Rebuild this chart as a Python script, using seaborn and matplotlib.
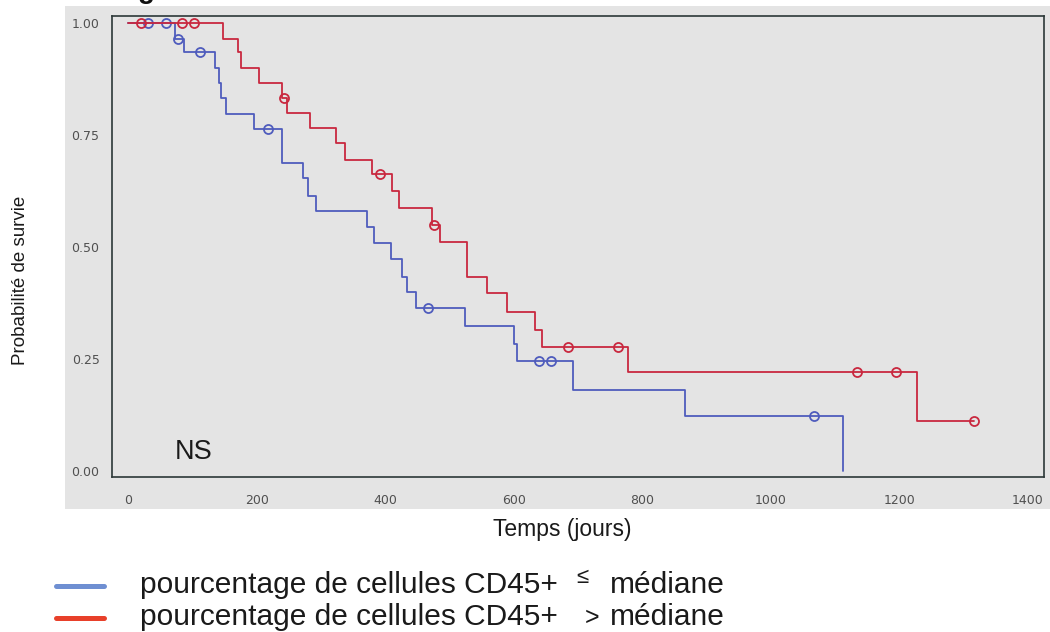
import numpy as np
import pandas as pd
import matplotlib
matplotlib.use("Agg")
import matplotlib.pyplot as plt
from matplotlib.patches import Rectangle
from matplotlib.lines import Line2D
import seaborn as sns

# Kaplan-Meier steps (days, survival)
blue_times = [0, 73, 87, 135, 141, 145, 152, 196, 239, 272, 280, 292, 372, 382,
              409, 426, 434, 448, 524, 600, 605, 692, 866, 1112]
blue_surv = [1.0, 0.964, 0.935, 0.900, 0.866, 0.833, 0.797, 0.763, 0.688, 0.654,
             0.614, 0.580, 0.545, 0.509, 0.473, 0.433, 0.400, 0.364, 0.324, 0.283,
             0.246, 0.181, 0.123, 0.0]
blue_end = 1112
blue_censored = [31, 59, 77, 112, 218, 466, 639, 658, 1067]

red_times = [0, 148, 171, 175, 204, 240, 247, 283, 323, 337, 379, 411, 421, 473,
             485, 527, 558, 589, 633, 644, 778, 1227]
red_surv = [1.0, 0.964, 0.935, 0.900, 0.866, 0.833, 0.799, 0.766, 0.732, 0.694,
            0.663, 0.625, 0.587, 0.549, 0.511, 0.433, 0.397, 0.355, 0.315, 0.277,
            0.221, 0.111]
red_end = 1316
red_censored = [20, 84, 102, 242, 392, 476, 684, 762, 1134, 1195, 1316]

x_ticks = [0, 200, 400, 600, 800, 1000, 1200, 1400]
y_ticks = [0.0, 0.25, 0.5, 0.75, 1.0]
legend_labels = ["pourcentage de cellules CD45+", "médiane"]
legend_signs = ["≤", ">"]

BLUE = "#4f5cbd"
RED = "#c9283f"
GRAY = "#e4e4e4"


def step_frame(times, surv, end):
    t = list(times) + [end]
    s = list(surv) + [surv[-1]]
    return pd.DataFrame({"temps": t, "surv": s})


def censor_frame(times, surv, cens):
    idx = np.searchsorted(times, cens, side="right") - 1
    return pd.DataFrame({"temps": cens, "surv": np.asarray(surv)[idx]})


sns.set_style("white")
plt.rcParams["font.family"] = ["Liberation Sans", "DejaVu Sans"]

fig = plt.figure(figsize=(10.5, 6.32), dpi=100)
fig.add_artist(Rectangle((65 / 1050, (632 - 509) / 632), 985 / 1050, 503 / 632,
                         transform=fig.transFigure, facecolor=GRAY,
                         edgecolor="none", zorder=-1))
ax = fig.add_axes([112 / 1050, 155 / 632, 932 / 1050, 461 / 632])
ax.set_facecolor(GRAY)

for times, surv, end, cens, col in [
    (blue_times, blue_surv, blue_end, blue_censored, BLUE),
    (red_times, red_surv, red_end, red_censored, RED),
]:
    sns.lineplot(data=step_frame(times, surv, end), x="temps", y="surv",
                 estimator=None, sort=False, drawstyle="steps-post",
                 color=col, linewidth=1.3, ax=ax)
    cdf = censor_frame(times, surv, cens)
    ax.plot(cdf["temps"], cdf["surv"], linestyle="none", marker="o",
            markersize=6.5, markerfacecolor="none", markeredgecolor=col,
            markeredgewidth=1.3)

ax.set_xlim(-25, 1425)
ax.set_ylim(-0.0134, 1.0156)
ax.set_xticks(x_ticks)
ax.set_yticks(y_ticks)
ax.set_yticklabels([f"{v:.2f}" for v in y_ticks])
for lab in ax.get_xticklabels() + ax.get_yticklabels():
    lab.set_fontfamily("DejaVu Sans")
ax.tick_params(axis="both", direction="out", length=5, width=1, color="#333333",
               labelsize=9, labelcolor="#505050")
ax.tick_params(axis="x", pad=7)
ax.tick_params(axis="y", pad=4)
for sp in ax.spines.values():
    sp.set_color("#2c3838")
    sp.set_linewidth(1.2)

ax.set_xlabel("Temps (jours)", fontsize=16.5, color="#1a1a1a")
ax.xaxis.set_label_coords(0.483, -0.088)
ax.set_ylabel("Probabilité de survie", fontsize=13.5, color="#1a1a1a")
ax.yaxis.set_label_coords(-0.089, 0.427)

ax.text(73, 0.027, "NS", fontsize=19.5, color="#1a1a1a", va="baseline")

# cut-off title at the top edge
fig.text(138 / 1050, 1 + 2 / 632, "g", fontsize=20, fontweight="bold",
         va="baseline", color="#111111")

# legend drawn by hand below the plot
legend_cols = ["#6f8fd2", "#e8402a"]
baselines = [593, 625]
for i in range(2):
    yb = (632 - baselines[i]) / 632
    yl = (632 - (baselines[i] - 7)) / 632
    fig.add_artist(Line2D([56 / 1050, 104 / 1050], [yl, yl], color=legend_cols[i],
                          linewidth=3.6, transform=fig.transFigure))
    fig.text(140 / 1050, yb, legend_labels[0], fontsize=21.5, va="baseline",
             color="#1a1a1a")
    fig.text(610 / 1050, yb, legend_labels[1], fontsize=21.5, va="baseline",
             color="#1a1a1a")
fig.text(582 / 1050, (632 - 583) / 632, legend_signs[0], fontsize=16,
         va="baseline", ha="center", color="#1a1a1a")
fig.text(592 / 1050, (632 - 625) / 632, legend_signs[1], fontsize=18,
         va="baseline", ha="center", color="#1a1a1a")

fig.savefig("out.png", dpi=100)
